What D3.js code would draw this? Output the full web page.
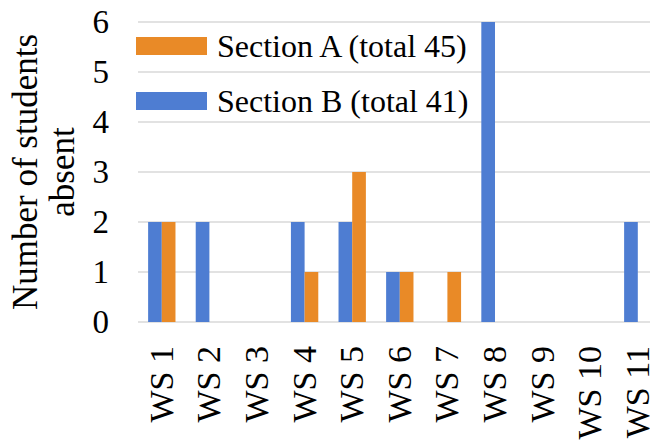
<!DOCTYPE html>
<html>
<head>
<meta charset="utf-8">
<script src="https://cdn.jsdelivr.net/npm/d3@7"></script>
</head>
<body style="margin:0">
<script>
// chart data
const sessions = ["WS 1", "WS 2", "WS 3", "WS 4", "WS 5", "WS 6", "WS 7", "WS 8", "WS 9", "WS 10", "WS 11"];
const sectionB = [2, 2, 0, 2, 2, 1, 0, 6, 0, 0, 2];
const sectionA = [2, 0, 0, 1, 3, 1, 1, 0, 0, 0, 0];
const seriesNames = ["Section B (total 41)", "Section A (total 45)"];
const yTicks = [0, 1, 2, 3, 4, 5, 6];

const w = 650;
const h = 442;
const plotLeft = 138;
const plotTop = 22;
const plotBottom = 322;

const blue = "#4e7dd2";
const orange = "#e98a27";

const svg = d3.select("body")
              .append("svg")
              .attr("width", w)
              .attr("height", h);

// serif text, font set the same way as the test page that drew it right
function label(sel, size) {
  return sel.style("font-family", () => '"Liberation Serif"')
            .style("font-size", size + "px");
}

// scales (plot runs past the right edge, as in the cropped original)
const xScale = d3.scaleBand()
                 .domain(sessions)
                 .range([plotLeft, plotLeft + 47.6 * sessions.length]);
const yScale = d3.scaleLinear()
                 .domain([0, 6])
                 .range([plotBottom, plotTop]);
const inner = d3.scaleBand()
                .domain([0, 1])
                .range([0, xScale.bandwidth()])
                .paddingOuter(0.74)
                .paddingInner(0);

// gridlines
svg.selectAll("line.grid")
   .data(yTicks)
   .enter()
   .append("line")
   .attr("class", "grid")
   .attr("x1", plotLeft)
   .attr("x2", w)
   .attr("y1", d => yScale(d))
   .attr("y2", d => yScale(d))
   .attr("stroke", "#d9d9d9")
   .attr("stroke-width", 1.5);

// y tick labels (baseline pushed down by hand, no em offsets)
label(svg.selectAll("text.ytick")
   .data(yTicks)
   .enter()
   .append("text")
   .attr("class", "ytick")
   .attr("x", 109)
   .attr("y", d => yScale(d) + 11)
   .attr("text-anchor", "end"), 33)
   .text(d => d);

// bars
const series = [sectionB, sectionA];
const colors = [blue, orange];
series.forEach((vals, i) => {
  svg.selectAll("rect.s" + i)
     .data(vals)
     .enter()
     .append("rect")
     .attr("class", "s" + i)
     .attr("x", (d, j) => xScale(sessions[j]) + inner(i))
     .attr("y", d => yScale(d))
     .attr("width", inner.bandwidth())
     .attr("height", d => yScale(0) - yScale(d))
     .attr("fill", colors[i]);
});

// x labels, rotated
label(svg.selectAll("text.xlab")
   .data(sessions)
   .enter()
   .append("text")
   .attr("class", "xlab")
   .attr("transform", d => `translate(${xScale(d) + xScale.bandwidth() / 2 + 11}, 346) rotate(-90)`)
   .attr("text-anchor", "end"), 34)
   .text(d => d);

// y title
label(svg.append("text")
   .attr("transform", `translate(37, ${(plotTop + plotBottom) / 2}) rotate(-90)`)
   .attr("text-anchor", "middle"), 35)
   .text("Number of students");
label(svg.append("text")
   .attr("transform", `translate(74, ${(plotTop + plotBottom) / 2}) rotate(-90)`)
   .attr("text-anchor", "middle"), 35)
   .text("absent");

// legend (A listed first)
const legendRows = [
  { name: seriesNames[1], color: orange, y: 46 },
  { name: seriesNames[0], color: blue, y: 101 }
];
svg.selectAll("rect.key")
   .data(legendRows)
   .enter()
   .append("rect")
   .attr("class", "key")
   .attr("x", 136)
   .attr("y", d => d.y - 9)
   .attr("width", 71)
   .attr("height", 18)
   .attr("fill", d => d.color);
label(svg.selectAll("text.key")
   .data(legendRows)
   .enter()
   .append("text")
   .attr("class", "key")
   .attr("x", 217)
   .attr("y", d => d.y + 11), 32)
   .text(d => d.name);
</script>
</body>
</html>
